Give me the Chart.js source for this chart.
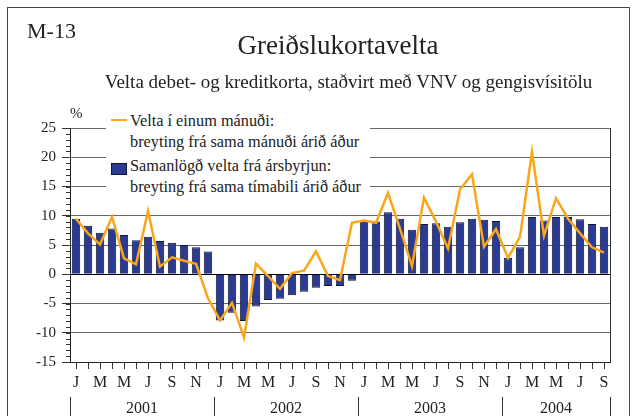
<!DOCTYPE html>
<html>
<head>
<meta charset="utf-8">
<script src="https://cdn.jsdelivr.net/npm/chart.js@4.4.1/dist/chart.umd.min.js"></script>
<style>
    body { margin: 0; background: #fff; }
    #wrap { position: relative; width: 634px; height: 416px; overflow: hidden; font-family: "Liberation Serif", "Times New Roman", serif; color: #222; }
    #frame { position: absolute; left: 7px; top: 7px; width: 621px; height: 430px; border: 1px solid #444; }
    canvas { position: absolute; left: 0; top: 0; }
    .t { position: absolute; white-space: nowrap; line-height: 1; }
    #legend { position: absolute; left: 106px; top: 110px; width: 264px; height: 86px; background: #fff; z-index: 2; }
    #legend .t { font-size: 16.3px; left: 24px; }
    #legend .line { position: absolute; left: 5px; top: 9px; width: 16px; height: 2px; background: #F9A61B; }
    #legend .box { position: absolute; left: 5px; top: 53px; width: 14px; height: 10px; background: #2B3A93; border: 1px solid #111633; }
</style>
</head>
<body>
<div id="wrap">
    <div id="frame"></div>
    <canvas id="chart" width="634" height="416"></canvas>
    <div class="t" style="left:27px; top:20px; font-size:22px;">M-13</div>
    <div class="t" style="left:0; width:676px; text-align:center; top:32px; font-size:27px;">Greiðslukortavelta</div>
    <div class="t" style="left:0; width:697px; text-align:center; top:72px; font-size:19px;">Velta debet- og kreditkorta, staðvirt með VNV og gengisvísitölu</div>
    <div class="t" style="left:70px; top:106px; font-size:15px;">%</div>
    <div id="legend">
        <div class="line"></div>
        <div class="t" style="top:3px;">Velta í einum mánuði:</div>
        <div class="t" style="top:24px;">breyting frá sama mánuði árið áður</div>
        <div class="box"></div>
        <div class="t" style="top:48px;">Samanlögð velta frá ársbyrjun:</div>
        <div class="t" style="top:69px;">breyting frá sama tímabili árið áður</div>
    </div>
</div>
<script>
    // months Jan 2001 - Sep 2004
    const categories = [
        '2001-01', '2001-02', '2001-03', '2001-04', '2001-05', '2001-06', '2001-07', '2001-08', '2001-09', '2001-10', '2001-11', '2001-12',
        '2002-01', '2002-02', '2002-03', '2002-04', '2002-05', '2002-06', '2002-07', '2002-08', '2002-09', '2002-10', '2002-11', '2002-12',
        '2003-01', '2003-02', '2003-03', '2003-04', '2003-05', '2003-06', '2003-07', '2003-08', '2003-09', '2003-10', '2003-11', '2003-12',
        '2004-01', '2004-02', '2004-03', '2004-04', '2004-05', '2004-06', '2004-07', '2004-08', '2004-09'
    ];
    const tickLabels = [
        'J', '', 'M', '', 'M', '', 'J', '', 'S', '', 'N', '',
        'J', '', 'M', '', 'M', '', 'J', '', 'S', '', 'N', '',
        'J', '', 'M', '', 'M', '', 'J', '', 'S', '', 'N', '',
        'J', '', 'M', '', 'M', '', 'J', '', 'S'
    ];
    const years = ['2001', '2002', '2003', '2004'];

    // Velta í einum mánuði
    const monthlyChange = [
        9.5, 7.0, 5.1, 9.8, 2.7, 1.7, 10.8, 1.3, 2.9, 2.3, 1.8, -4.1,
        -7.9, -4.9, -10.8, 1.8, -0.3, -2.5, 0.2, 0.6, 3.9, -0.3, -1.0, 8.8,
        9.2, 8.8, 13.9, 7.8, 1.4, 13.1, 9.0, 4.4, 14.5, 17.1, 4.7, 7.7,
        2.8, 6.4, 20.9, 6.6, 13.0, 9.5, 7.0, 4.6, 3.7
    ];
    // Samanlögð velta frá ársbyrjun
    const ytdChange = [
        9.5, 8.3, 7.1, 7.8, 6.7, 5.8, 6.4, 5.7, 5.4, 5.0, 4.6, 3.9,
        -7.9, -6.6, -8.0, -5.5, -4.4, -4.2, -3.6, -3.0, -2.3, -2.0, -2.0, -1.1,
        9.2, 9.0, 10.6, 9.5, 7.6, 8.6, 8.7, 8.1, 8.9, 9.5, 9.3, 9.1,
        2.8, 4.6, 9.8, 9.2, 9.8, 9.8, 9.4, 8.6, 8.1
    ];

    const fontFamily = '"Liberation Serif", "Times New Roman", serif';

    const framePlugin = {
        id: 'framePlugin',
        afterDraw(chart) {
            const { ctx, chartArea: a, scales: { x, y } } = chart;
            ctx.save();
            ctx.strokeStyle = '#333';
            ctx.lineWidth = 1;
            // minor ticks on y axis
            for (let v = -15; v <= 25; v++) {
                const py = Math.round(y.getPixelForValue(v)) + 0.5;
                ctx.beginPath();
                ctx.moveTo(a.left - 4, py);
                ctx.lineTo(a.left, py);
                ctx.stroke();
            }
            // right border of plot
            ctx.beginPath();
            ctx.moveTo(Math.round(a.right) + 0.5, a.top);
            ctx.lineTo(Math.round(a.right) + 0.5, a.bottom);
            ctx.stroke();
            // year labels
            const half = (x.getPixelForValue(1) - x.getPixelForValue(0)) / 2;
            ctx.font = '16px ' + fontFamily;
            ctx.fillStyle = '#222';
            ctx.textAlign = 'center';
            ctx.textBaseline = 'alphabetic';
            years.forEach((yr, i) => {
                const first = i * 12;
                const last = Math.min(first + 11, categories.length - 1);
                const x0 = x.getPixelForValue(first) - half;
                const x1 = x.getPixelForValue(last) + half;
                ctx.fillText(yr, (x0 + x1) / 2, 413);
                [x0, x1].forEach(px => {
                    ctx.beginPath();
                    ctx.moveTo(Math.round(px) + 0.5, 397);
                    ctx.lineTo(Math.round(px) + 0.5, 416);
                    ctx.stroke();
                });
            });
            ctx.restore();
        }
    };

    new Chart(document.getElementById('chart'), {
        data: {
            labels: categories,
            datasets: [
                {
                    type: 'line',
                    label: 'Velta í einum mánuði',
                    data: monthlyChange,
                    borderColor: '#F9A61B',
                    borderWidth: 2.5,
                    pointRadius: 0,
                    tension: 0,
                    order: 0
                },
                {
                    type: 'bar',
                    label: 'Samanlögð velta frá ársbyrjun',
                    data: ytdChange,
                    backgroundColor: '#2B3A93',
                    borderColor: '#111633',
                    borderWidth: 1,
                    barPercentage: 0.7,
                    categoryPercentage: 1,
                    order: 1
                }
            ]
        },
        options: {
            responsive: false,
            animation: false,
            devicePixelRatio: 1,
            layout: { padding: { top: 128, right: 24, bottom: 0, left: 0 } },
            plugins: {
                legend: { display: false },
                tooltip: { enabled: false }
            },
            scales: {
                x: {
                    type: 'category',
                    offset: true,
                    grid: { display: true, drawOnChartArea: false, offset: false, tickLength: 7, color: '#333' },
                    border: { display: true, color: '#222' },
                    ticks: {
                        autoSkip: false, maxRotation: 0, minRotation: 0, padding: 4,
                        color: '#222', font: { family: fontFamily, size: 16 },
                        callback: (value, index) => tickLabels[index]
                    },
                    afterFit: scale => { scale.height = 54; }
                },
                y: {
                    min: -15,
                    max: 25,
                    ticks: { stepSize: 5, padding: 6, color: '#222', font: { family: fontFamily, size: 15 } },
                    grid: {
                        color: c => c.tick && c.tick.value === 0 ? '#000' : '#666',
                        lineWidth: 1,
                        tickLength: 8,
                        tickColor: '#333'
                    },
                    border: { display: true, color: '#222' },
                    afterFit: scale => { scale.width = 70; }
                }
            }
        },
        plugins: [framePlugin]
    });
</script>
</body>
</html>
